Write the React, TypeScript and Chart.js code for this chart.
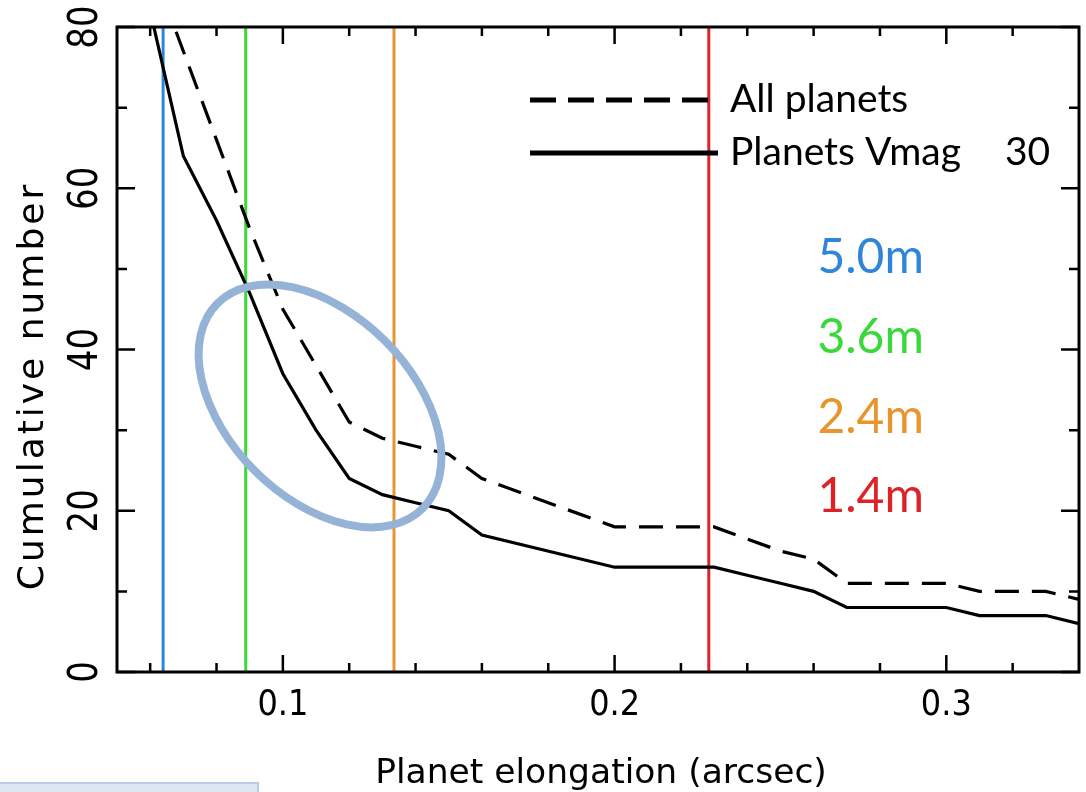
import React, { useEffect, useRef } from "react";
import { Chart, registerables } from "chart.js";

Chart.register(...registerables);

// ---- data ----
const elongation = [0.06, 0.07, 0.08, 0.09, 0.10, 0.11, 0.12, 0.13, 0.14, 0.15, 0.16, 0.20, 0.23, 0.24, 0.25, 0.26, 0.27, 0.30, 0.31, 0.33, 0.34];
const allPlanets = [88, 77, 66, 55, 45, 38, 31, 29, 28, 27, 24, 18, 18, 16.5, 15, 14, 11, 11, 10, 10, 9];
const brightPlanets = [82, 64, 56, 47, 37, 30, 24, 22, 21, 20, 17, 13, 13, 12, 11, 10, 8, 8, 7, 7, 6];

const apertureLabels = ["5.0m", "3.6m", "2.4m", "1.4m"];
const apertureLimits = [0.0639, 0.0888, 0.1335, 0.2284];
const apertureColors = ["#2f86d8", "#3ad83a", "#e8952f", "#dd2228"];

const xMajorTicks = [0.1, 0.2, 0.3];
const xMinorTicks = [0.06, 0.08, 0.12, 0.14, 0.16, 0.18, 0.22, 0.24, 0.26, 0.28, 0.32];
const yMajorTicks = [0, 20, 40, 60, 80];
const yMinorTicks = [10, 30, 50, 70];

const seriesNames = ["All planets", "Planets Vmag"];
const vmagLimit = "30";

// ---- layout / annotation placement (not data) ----
const labelAnchorX = 0.2772;
const labelBaselines = [49.5, 39.6, 29.6, 19.8];
const ellipseCenter = { x: 0.1112, y: 33.0 };

const overlay = {
  id: "overlay",
  afterDatasetsDraw(chart: any) {
    const { ctx, chartArea: a, scales } = chart;
    const xs = scales.x;
    const ys = scales.y;
    ctx.save();

    // highlight ellipse
    ctx.beginPath();
    ctx.ellipse(xs.getPixelForValue(ellipseCenter.x), ys.getPixelForValue(ellipseCenter.y), 145, 92, Math.PI / 4, 0, Math.PI * 2);
    ctx.lineWidth = 8;
    ctx.strokeStyle = "#95b3d7";
    ctx.stroke();

    // frame
    ctx.lineWidth = 3;
    ctx.strokeStyle = "#000";
    ctx.strokeRect(a.left, a.top, a.right - a.left, a.bottom - a.top);

    // ticks
    ctx.lineWidth = 2.5;
    const xt = (v: number, len: number) => {
      const p = xs.getPixelForValue(v);
      ctx.beginPath();
      ctx.moveTo(p, a.bottom);
      ctx.lineTo(p, a.bottom - len);
      ctx.moveTo(p, a.top);
      ctx.lineTo(p, a.top + len);
      ctx.stroke();
    };
    const yt = (v: number, len: number) => {
      const p = ys.getPixelForValue(v);
      ctx.beginPath();
      ctx.moveTo(a.left, p);
      ctx.lineTo(a.left + len, p);
      ctx.moveTo(a.right, p);
      ctx.lineTo(a.right - len, p);
      ctx.stroke();
    };
    xMajorTicks.forEach((v) => xt(v, 17));
    xMinorTicks.forEach((v) => xt(v, 9));
    yMajorTicks.forEach((v) => yt(v, 18));
    yMinorTicks.forEach((v) => yt(v, 10));

    // x tick labels
    ctx.fillStyle = "#000";
    ctx.textBaseline = "alphabetic";
    xMajorTicks.forEach((v) => {
      ctx.save();
      ctx.translate(xs.getPixelForValue(v), a.bottom + 43);
      ctx.scale(1, 1.12);
      ctx.font = '32px "DejaVu Sans"';
      ctx.textAlign = "center";
      ctx.fillText(String(v), 0, 0);
      ctx.restore();
    });

    // y tick labels (rotated)
    yMajorTicks.forEach((v) => {
      ctx.save();
      ctx.translate(a.left - 20, ys.getPixelForValue(v));
      ctx.rotate(-Math.PI / 2);
      ctx.scale(0.85, 1);
      ctx.font = '40px "DejaVu Sans"';
      ctx.textAlign = "center";
      ctx.fillText(String(v), 0, 0);
      ctx.restore();
    });

    // axis titles
    ctx.font = '34.5px "DejaVu Sans"';
    ctx.textAlign = "center";
    ctx.fillText("Planet elongation (arcsec)", (a.left + a.right) / 2 + 3, a.bottom + 111);

    ctx.save();
    ctx.translate(43, 386);
    ctx.rotate(-Math.PI / 2);
    ctx.font = '36px "DejaVu Sans"';
    (ctx as any).letterSpacing = "3px";
    ctx.textAlign = "center";
    ctx.fillText("Cumulative number", 0, 0);
    ctx.restore();

    // aperture labels
    ctx.font = '48px Lato';
    ctx.textAlign = "center";
    apertureLabels.forEach((lab, i) => {
      ctx.fillStyle = apertureColors[i];
      ctx.fillText(lab, xs.getPixelForValue(labelAnchorX), ys.getPixelForValue(labelBaselines[i]));
    });

    // legend
    ctx.strokeStyle = "#000";
    ctx.lineWidth = 5;
    ctx.setLineDash([26, 12]);
    ctx.beginPath();
    ctx.moveTo(530, 100);
    ctx.lineTo(716, 100);
    ctx.stroke();
    ctx.setLineDash([]);
    ctx.beginPath();
    ctx.moveTo(530, 153);
    ctx.lineTo(718, 153);
    ctx.stroke();

    ctx.fillStyle = "#000";
    ctx.font = '39px Lato';
    ctx.textAlign = "left";
    ctx.fillText(seriesNames[0], 730, 112);
    ctx.fillText(seriesNames[1], 730, 165);
    ctx.fillText(vmagLimit, 1005, 165);

    ctx.restore();
  },
};

export default function App() {
  const ref = useRef<HTMLCanvasElement | null>(null);

  useEffect(() => {
    if (!ref.current) return;
    const toPts = (ys: number[]) => elongation.map((x, i) => ({ x, y: ys[i] }));
    const datasets: any[] = [
      {
        label: seriesNames[0],
        data: toPts(allPlanets),
        borderColor: "#000",
        borderWidth: 3.2,
        borderDash: [24, 13],
        pointRadius: 0,
        tension: 0,
      },
      {
        label: seriesNames[1],
        data: toPts(brightPlanets),
        borderColor: "#000",
        borderWidth: 3.2,
        pointRadius: 0,
        tension: 0,
      },
      ...apertureLimits.map((x, i) => ({
        label: apertureLabels[i],
        data: [
          { x, y: 0 },
          { x, y: 80 },
        ],
        borderColor: apertureColors[i],
        borderWidth: 3,
        pointRadius: 0,
      })),
    ];

    const chart = new Chart(ref.current, {
      type: "line",
      data: { datasets },
      options: {
        responsive: false,
        animation: false,
        devicePixelRatio: 1,
        layout: { padding: { left: 117, right: 7, top: 27, bottom: 120 } },
        plugins: { legend: { display: false }, tooltip: { enabled: false } },
        scales: {
          x: { type: "linear", min: 0.05, max: 0.34, display: false },
          y: { type: "linear", min: 0, max: 80, display: false },
        },
      },
      plugins: [overlay],
    });
    return () => chart.destroy();
  }, []);

  return (
    <div>
      <div style={{ position: "absolute", left: 0, top: 0, width: 1086, height: 792, background: "#fff" }}>
        <canvas ref={ref} width={1086} height={792} style={{ display: "block" }} />
      </div>
      <div
        style={{
          position: "absolute",
          left: -2,
          top: 782,
          width: 257,
          height: 8,
          background: "#dce6f2",
          border: "2px solid #b9cde5",
        }}
      />
    </div>
  );
}
